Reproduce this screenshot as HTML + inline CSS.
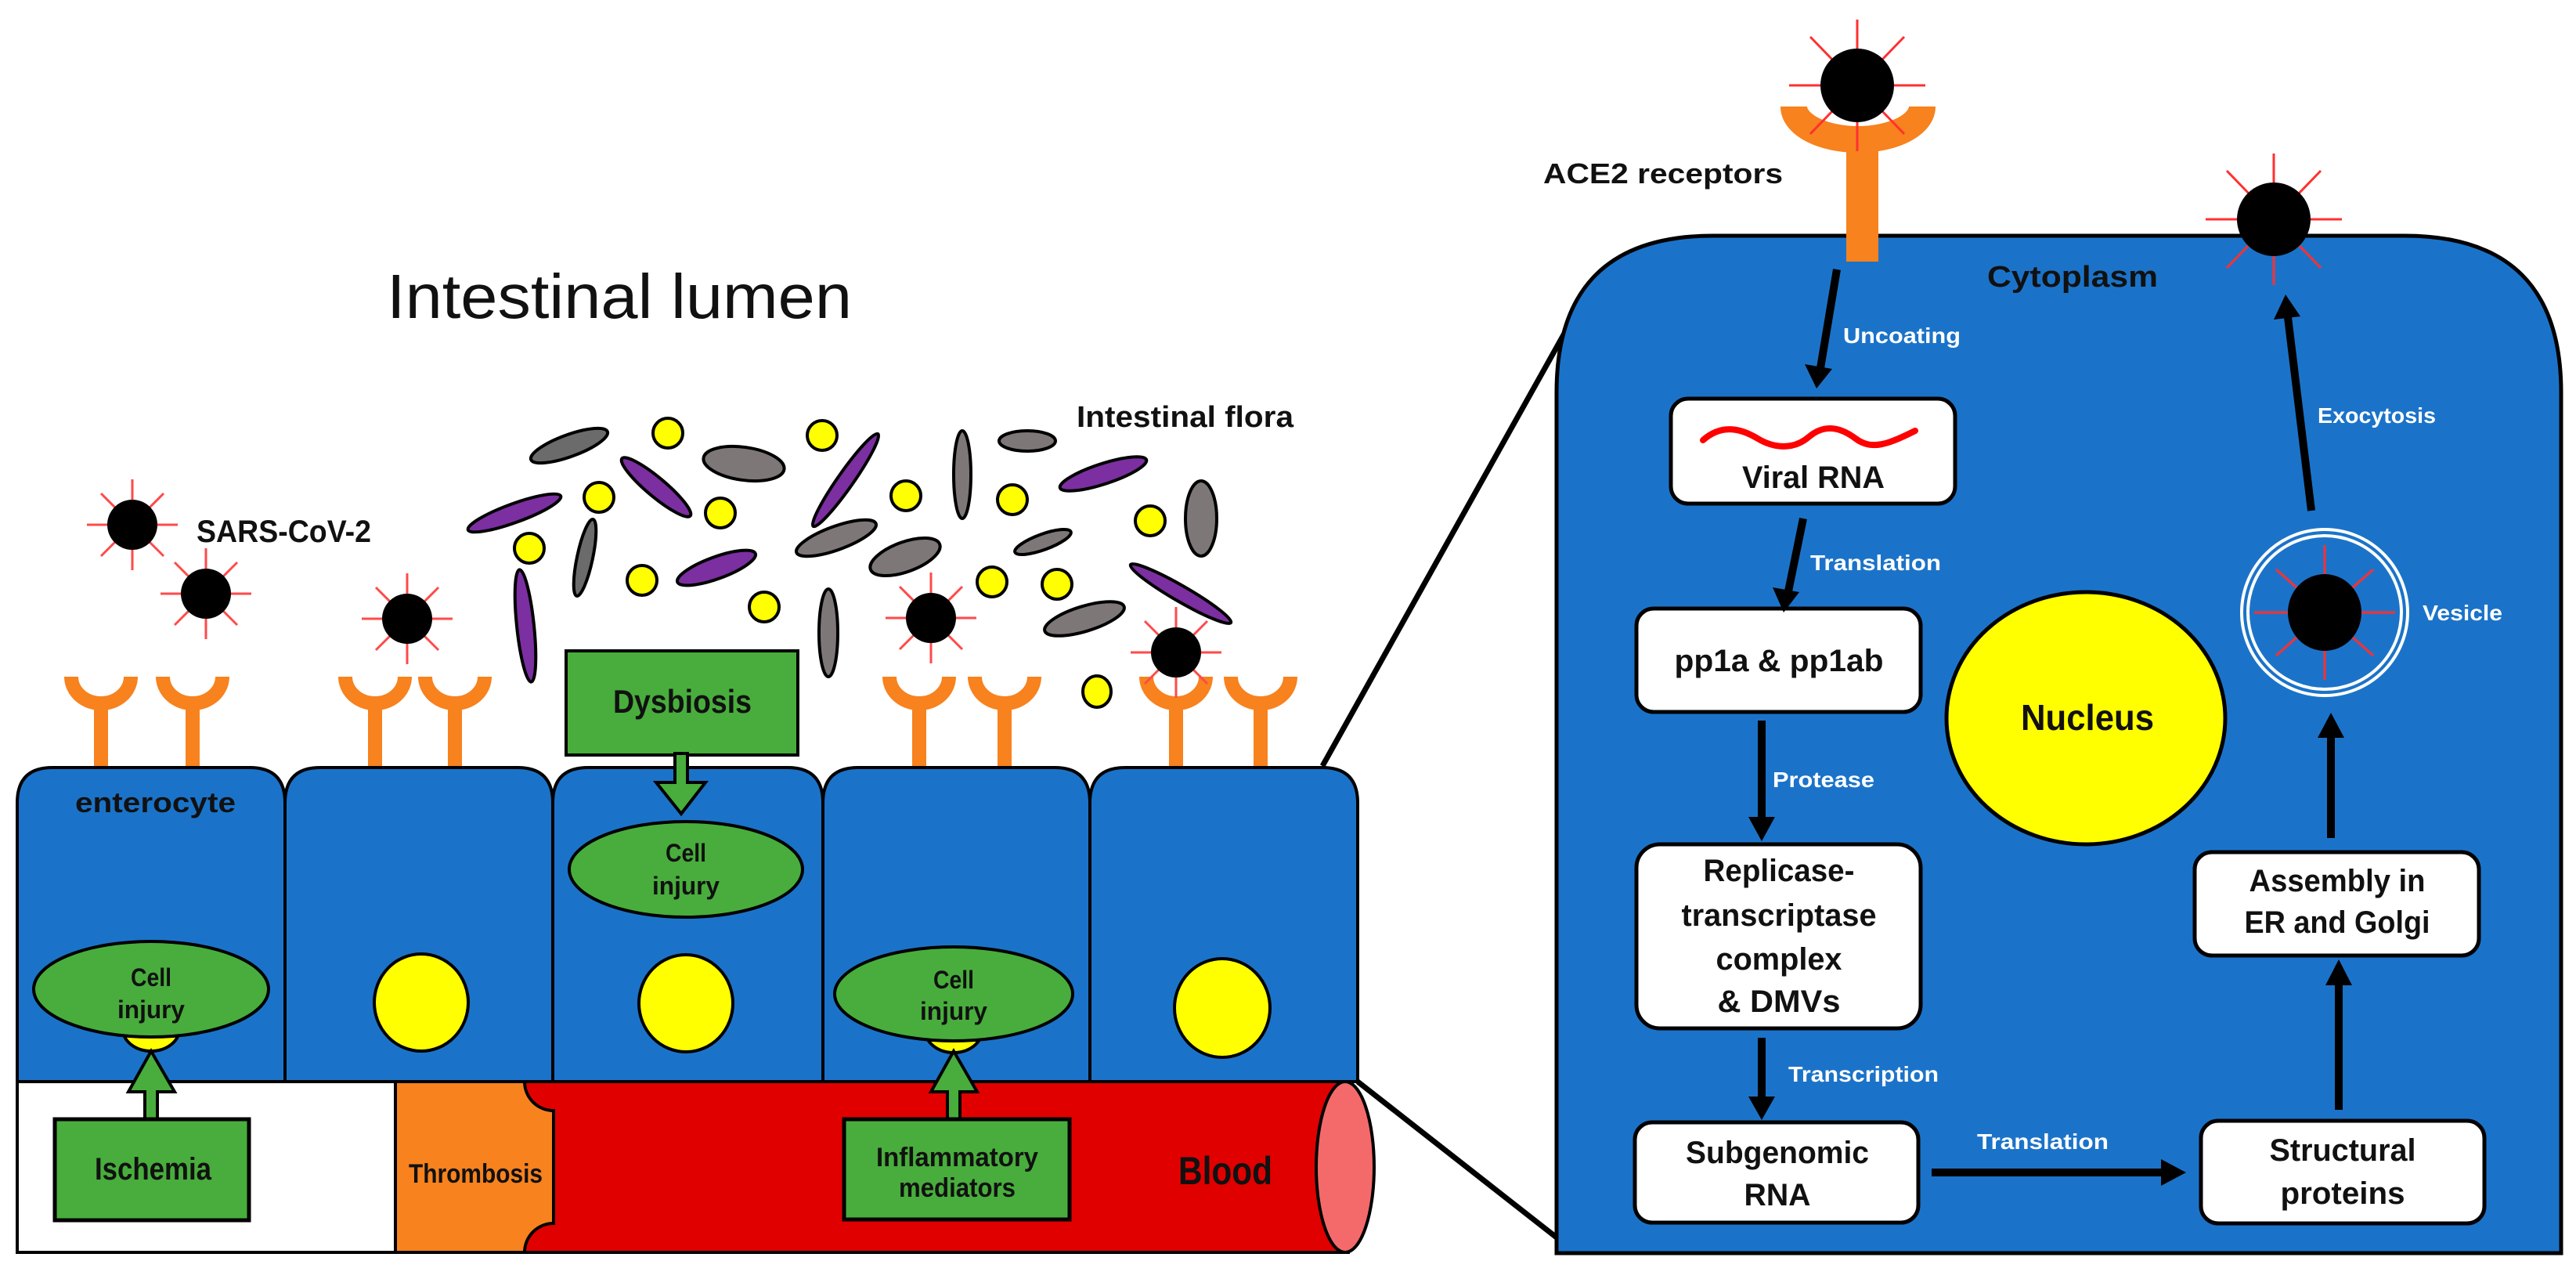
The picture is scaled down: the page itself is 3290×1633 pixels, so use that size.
<!DOCTYPE html>
<html><head><meta charset="utf-8"><style>
html,body{margin:0;padding:0;background:#fff;}
svg{display:block;}
.n{font-family:"Liberation Sans Narrow","Liberation Sans",sans-serif;font-weight:bold;fill:#111;}
.b{font-family:"Liberation Sans",sans-serif;font-weight:bold;fill:#111;}
.w{font-family:"Liberation Sans",sans-serif;font-weight:bold;fill:#fff;}
</style></head><body>
<svg width="3290" height="1633" viewBox="0 0 3290 1633" xmlns="http://www.w3.org/2000/svg">
<defs>
<g id="vs">
 <g stroke="#ff4a4a" stroke-width="3">
  <line x1="-58" y1="0" x2="58" y2="0"/><line x1="0" y1="-58" x2="0" y2="58"/>
  <line x1="-40" y1="-40" x2="40" y2="40"/><line x1="-40" y1="40" x2="40" y2="-40"/>
 </g>
 <circle r="32" fill="#000"/>
</g>
<g id="vb">
 <g stroke="#ff3030" stroke-width="3">
  <line x1="-87" y1="0" x2="87" y2="0"/><line x1="0" y1="-84" x2="0" y2="84"/>
  <line x1="-60" y1="-62" x2="60" y2="62"/><line x1="-60" y1="62" x2="60" y2="-62"/>
 </g>
 <circle r="47" fill="#000"/>
</g>
<g id="rc">
 <path d="M-38,864 A38,34 0 0 0 38,864" fill="none" stroke="#f7821e" stroke-width="18"/>
 <line x1="0" y1="895" x2="0" y2="980" stroke="#f7821e" stroke-width="18"/>
</g>
</defs>

<text x="494" y="406" font-family="Liberation Sans, sans-serif" font-size="80" fill="#111" textLength="594" lengthAdjust="spacingAndGlyphs">Intestinal lumen</text>
<text class="n" x="1375" y="545" font-size="38" textLength="277" lengthAdjust="spacingAndGlyphs">Intestinal flora</text>
<text class="n" x="251" y="692" font-size="40" textLength="223" lengthAdjust="spacingAndGlyphs">SARS-CoV-2</text>

<g stroke="#000" stroke-width="4">
<ellipse cx="727" cy="569" rx="52" ry="14" transform="rotate(-20 727 569)" fill="#6b6b6b"/>
<ellipse cx="950" cy="592" rx="52" ry="21" transform="rotate(8 950 592)" fill="#7d7777"/>
<ellipse cx="838" cy="622" rx="57" ry="12" transform="rotate(40 838 622)" fill="#7b2fa0"/>
<ellipse cx="657" cy="655" rx="63" ry="12" transform="rotate(-20 657 655)" fill="#7b2fa0"/>
<ellipse cx="1080" cy="613" rx="72" ry="10" transform="rotate(-55 1080 613)" fill="#7b2fa0"/>
<ellipse cx="747" cy="712" rx="50" ry="10" transform="rotate(-78 747 712)" fill="#6b6b6b"/>
<ellipse cx="915" cy="725" rx="53" ry="14" transform="rotate(-20 915 725)" fill="#7b2fa0"/>
<ellipse cx="671" cy="799" rx="72" ry="11" transform="rotate(84 671 799)" fill="#7b2fa0"/>
<ellipse cx="1058" cy="808" rx="56" ry="12" transform="rotate(90 1058 808)" fill="#7d7777"/>
<ellipse cx="1068" cy="687" rx="54" ry="15" transform="rotate(-20 1068 687)" fill="#7d7777"/>
<ellipse cx="1156" cy="711" rx="47" ry="19" transform="rotate(-20 1156 711)" fill="#7d7777"/>
<ellipse cx="1229" cy="606" rx="56" ry="11" transform="rotate(90 1229 606)" fill="#7d7777"/>
<ellipse cx="1312" cy="563" rx="36" ry="13" fill="#7d7777"/>
<ellipse cx="1409" cy="605" rx="58" ry="13" transform="rotate(-18 1409 605)" fill="#7b2fa0"/>
<ellipse cx="1332" cy="692" rx="38" ry="10" transform="rotate(-20 1332 692)" fill="#7d7777"/>
<ellipse cx="1534" cy="662" rx="48" ry="20" transform="rotate(90 1534 662)" fill="#7d7777"/>
<ellipse cx="1385" cy="790" rx="53" ry="16" transform="rotate(-17 1385 790)" fill="#7d7777"/>
<ellipse cx="1508" cy="758" rx="74" ry="10" transform="rotate(30 1508 758)" fill="#7b2fa0"/>
<g fill="#ffff00">
<circle cx="853" cy="553" r="19"/><circle cx="1050" cy="556" r="19"/><circle cx="765" cy="635" r="19"/>
<circle cx="920" cy="655" r="19"/><circle cx="676" cy="700" r="19"/><circle cx="820" cy="741" r="19"/>
<circle cx="976" cy="775" r="19"/><circle cx="1157" cy="633" r="19"/><circle cx="1293" cy="638" r="19"/>
<circle cx="1469" cy="665" r="19"/><circle cx="1267" cy="743" r="19"/><circle cx="1350" cy="746" r="19"/>
<ellipse cx="1401" cy="883" rx="18" ry="20"/>
</g>
</g>

<use href="#rc" x="129"/><use href="#rc" x="246"/><use href="#rc" x="479"/><use href="#rc" x="581"/>
<use href="#rc" x="1174"/><use href="#rc" x="1283"/><use href="#rc" x="1502"/><use href="#rc" x="1610"/>

<use href="#vs" x="169" y="670"/><use href="#vs" x="263" y="758"/><use href="#vs" x="520" y="790"/>
<use href="#vs" x="1189" y="789"/><use href="#vs" x="1502" y="833"/>

<rect x="723" y="831" width="296" height="133" fill="#48ad3c" stroke="#000" stroke-width="4"/>
<text class="n" x="783" y="910" font-size="42" textLength="177" lengthAdjust="spacingAndGlyphs">Dysbiosis</text>

<line x1="1689" y1="978" x2="2000" y2="422" stroke="#000" stroke-width="7"/>
<line x1="1734" y1="1381" x2="1988" y2="1580" stroke="#000" stroke-width="7"/>

<g fill="#1b73c9" stroke="#000" stroke-width="4">
<path d="M22,1381 V1025 Q22,980 67,980 H319 Q364,980 364,1025 V1381 Z"/>
<path d="M364,1381 V1025 Q364,980 409,980 H661 Q706,980 706,1025 V1381 Z"/>
<path d="M706,1381 V1025 Q706,980 751,980 H1006 Q1051,980 1051,1025 V1381 Z"/>
<path d="M1051,1381 V1025 Q1051,980 1096,980 H1347 Q1392,980 1392,1025 V1381 Z"/>
<path d="M1392,1381 V1025 Q1392,980 1437,980 H1689 Q1734,980 1734,1025 V1381 Z"/>
</g>
<g fill="#ffff00" stroke="#000" stroke-width="4">
<ellipse cx="193" cy="1314" rx="36" ry="28"/>
<ellipse cx="538" cy="1280" rx="60" ry="62"/>
<ellipse cx="876" cy="1281" rx="60" ry="62"/>
<ellipse cx="1218" cy="1316" rx="36" ry="28"/>
<ellipse cx="1561" cy="1287" rx="61" ry="63"/>
</g>
<text class="n" x="96" y="1037" font-size="36" textLength="205" lengthAdjust="spacingAndGlyphs">enterocyte</text>

<rect x="22" y="1381" width="1700" height="218" fill="#fff" stroke="#000" stroke-width="4"/>
<rect x="505" y="1381" width="210" height="218" fill="#f7821e" stroke="#000" stroke-width="4"/>
<path d="M670,1381 A37,37 0 0 0 707,1418 V1562 A37,37 0 0 0 670,1599 H1718 V1381 Z" fill="#e00000" stroke="#000" stroke-width="4"/>
<ellipse cx="1718" cy="1490" rx="37" ry="109" fill="#f46a6a" stroke="#000" stroke-width="4"/>
<text class="n" x="522" y="1510" font-size="34" textLength="171" lengthAdjust="spacingAndGlyphs">Thrombosis</text>
<text class="n" x="1505" y="1512" font-size="50" textLength="120" lengthAdjust="spacingAndGlyphs">Blood</text>

<g fill="#48ad3c" stroke="#000" stroke-width="4">
<ellipse cx="193" cy="1263" rx="150" ry="61"/>
<ellipse cx="876" cy="1110" rx="149" ry="61"/>
<ellipse cx="1218" cy="1269" rx="152" ry="60"/>
</g>
<g class="n" font-size="32">
<text x="167" y="1259" textLength="52" lengthAdjust="spacingAndGlyphs">Cell</text><text x="150" y="1300" textLength="86" lengthAdjust="spacingAndGlyphs">injury</text>
<text x="850" y="1100" textLength="52" lengthAdjust="spacingAndGlyphs">Cell</text><text x="833" y="1142" textLength="86" lengthAdjust="spacingAndGlyphs">injury</text>
<text x="1192" y="1262" textLength="52" lengthAdjust="spacingAndGlyphs">Cell</text><text x="1175" y="1302" textLength="86" lengthAdjust="spacingAndGlyphs">injury</text>
</g>

<g fill="#48ad3c" stroke="#000" stroke-width="4">
<path d="M185,1431 V1394 H164 L193,1342 L223,1394 H201 V1431 Z"/>
<path d="M1210,1431 V1394 H1189 L1218,1342 L1248,1394 H1226 V1431 Z"/>
<path d="M862,962 V999 H838 L870,1039 L901,999 H878 V962 Z"/>
</g>
<rect x="70" y="1429" width="248" height="129" fill="#48ad3c" stroke="#000" stroke-width="5"/>
<text class="n" x="121" y="1506" font-size="40" textLength="149" lengthAdjust="spacingAndGlyphs">Ischemia</text>
<rect x="1078" y="1429" width="288" height="128" fill="#48ad3c" stroke="#000" stroke-width="5"/>
<text class="n" x="1119" y="1489" font-size="34" textLength="207" lengthAdjust="spacingAndGlyphs">Inflammatory</text>
<text class="n" x="1148" y="1528" font-size="34" textLength="149" lengthAdjust="spacingAndGlyphs">mediators</text>

<path d="M1988,1600 V501 Q1988,301 2188,301 H3071 Q3271,301 3271,501 V1600 Z" fill="#1b73c9" stroke="#000" stroke-width="5"/>
<path d="M2291,136 A82,42 0 0 0 2455,136" fill="none" stroke="#f7821e" stroke-width="34"/>
<rect x="2358" y="190" width="41" height="144" fill="#f7821e"/>
<use href="#vb" x="2372" y="109"/>
<text class="b" x="1971" y="234" font-size="36" textLength="306" lengthAdjust="spacingAndGlyphs">ACE2 receptors</text>
<text class="b" x="2538" y="366" font-size="38" textLength="218" lengthAdjust="spacingAndGlyphs">Cytoplasm</text>
<use href="#vb" x="2904" y="280"/>

<g fill="#fff" stroke="#000" stroke-width="5">
<rect x="2134" y="509" width="363" height="134" rx="22"/>
<rect x="2090" y="777" width="363" height="132" rx="22"/>
<rect x="2090" y="1078" width="363" height="235" rx="30"/>
<rect x="2088" y="1433" width="362" height="128" rx="22"/>
<rect x="2811" y="1431" width="362" height="131" rx="22"/>
<rect x="2803" y="1088" width="363" height="132" rx="22"/>
</g>
<path d="M2175,562 C2200,540 2225,548 2245,560 S2290,575 2310,558 S2350,545 2370,560 S2410,568 2446,550" fill="none" stroke="#ff0000" stroke-width="8" stroke-linecap="round"/>
<g class="b" font-size="40" text-anchor="middle">
<text x="2316" y="623" textLength="182" lengthAdjust="spacingAndGlyphs">Viral RNA</text>
<text x="2272" y="857" textLength="267" lengthAdjust="spacingAndGlyphs">pp1a &amp; pp1ab</text>
<text x="2272" y="1125" textLength="193" lengthAdjust="spacingAndGlyphs">Replicase-</text>
<text x="2272" y="1182" textLength="249" lengthAdjust="spacingAndGlyphs">transcriptase</text>
<text x="2272" y="1238" textLength="161" lengthAdjust="spacingAndGlyphs">complex</text>
<text x="2272" y="1292" textLength="157" lengthAdjust="spacingAndGlyphs">&amp; DMVs</text>
<text x="2270" y="1485" textLength="234" lengthAdjust="spacingAndGlyphs">Subgenomic</text>
<text x="2270" y="1539" textLength="85" lengthAdjust="spacingAndGlyphs">RNA</text>
<text x="2992" y="1482" textLength="187" lengthAdjust="spacingAndGlyphs">Structural</text>
<text x="2992" y="1537" textLength="159" lengthAdjust="spacingAndGlyphs">proteins</text>
<text x="2985" y="1138" textLength="225" lengthAdjust="spacingAndGlyphs">Assembly in</text>
<text x="2985" y="1191" textLength="237" lengthAdjust="spacingAndGlyphs">ER and Golgi</text>
</g>

<ellipse cx="2664" cy="917" rx="178" ry="161" fill="#ffff00" stroke="#000" stroke-width="5"/>
<text class="b" x="2666" y="932" font-size="46" text-anchor="middle" textLength="170" lengthAdjust="spacingAndGlyphs">Nucleus</text>

<circle cx="2969" cy="782" r="106" fill="none" stroke="#fff" stroke-width="4"/>
<circle cx="2969" cy="782" r="98" fill="none" stroke="#fff" stroke-width="4"/>
<g transform="translate(2969,782)">
 <g stroke="#ff3030" stroke-width="3">
  <line x1="-90" y1="0" x2="90" y2="0"/><line x1="0" y1="-86" x2="0" y2="86"/>
  <line x1="-62" y1="-55" x2="62" y2="55"/><line x1="-62" y1="55" x2="62" y2="-55"/>
 </g>
 <ellipse rx="47" ry="49" fill="#000"/>
</g>

<g stroke="#000" stroke-width="10" fill="none">
<line x1="2346" y1="344" x2="2325" y2="470"/>
<line x1="2303" y1="662" x2="2284" y2="755"/>
<line x1="2250" y1="920" x2="2250" y2="1045"/>
<line x1="2250" y1="1325" x2="2250" y2="1402"/>
<line x1="2467" y1="1497" x2="2765" y2="1497"/>
<line x1="2987" y1="1417" x2="2987" y2="1255"/>
<line x1="2977" y1="1070" x2="2977" y2="940"/>
<line x1="2952" y1="652" x2="2922" y2="405"/>
</g>
<g fill="#000">
<polygon points="2305,465 2340,471 2320,496"/>
<polygon points="2264,750 2298,756 2278,782"/>
<polygon points="2233,1043 2267,1043 2250,1074"/>
<polygon points="2233,1400 2267,1400 2250,1430"/>
<polygon points="2760,1480 2760,1514 2792,1497"/>
<polygon points="2970,1258 3004,1258 2987,1225"/>
<polygon points="2960,942 2994,942 2977,910"/>
<polygon points="2904,408 2938,404 2919,376"/>
</g>

<g class="w" font-size="28">
<text x="2354" y="438" textLength="150" lengthAdjust="spacingAndGlyphs">Uncoating</text>
<text x="2312" y="728" textLength="167" lengthAdjust="spacingAndGlyphs">Translation</text>
<text x="2264" y="1005" textLength="130" lengthAdjust="spacingAndGlyphs">Protease</text>
<text x="2284" y="1381" textLength="192" lengthAdjust="spacingAndGlyphs">Transcription</text>
<text x="2525" y="1467" textLength="168" lengthAdjust="spacingAndGlyphs">Translation</text>
<text x="2960" y="540" textLength="151" lengthAdjust="spacingAndGlyphs">Exocytosis</text>
<text x="3094" y="792" textLength="102" lengthAdjust="spacingAndGlyphs">Vesicle</text>
</g>
</svg>
</body></html>
